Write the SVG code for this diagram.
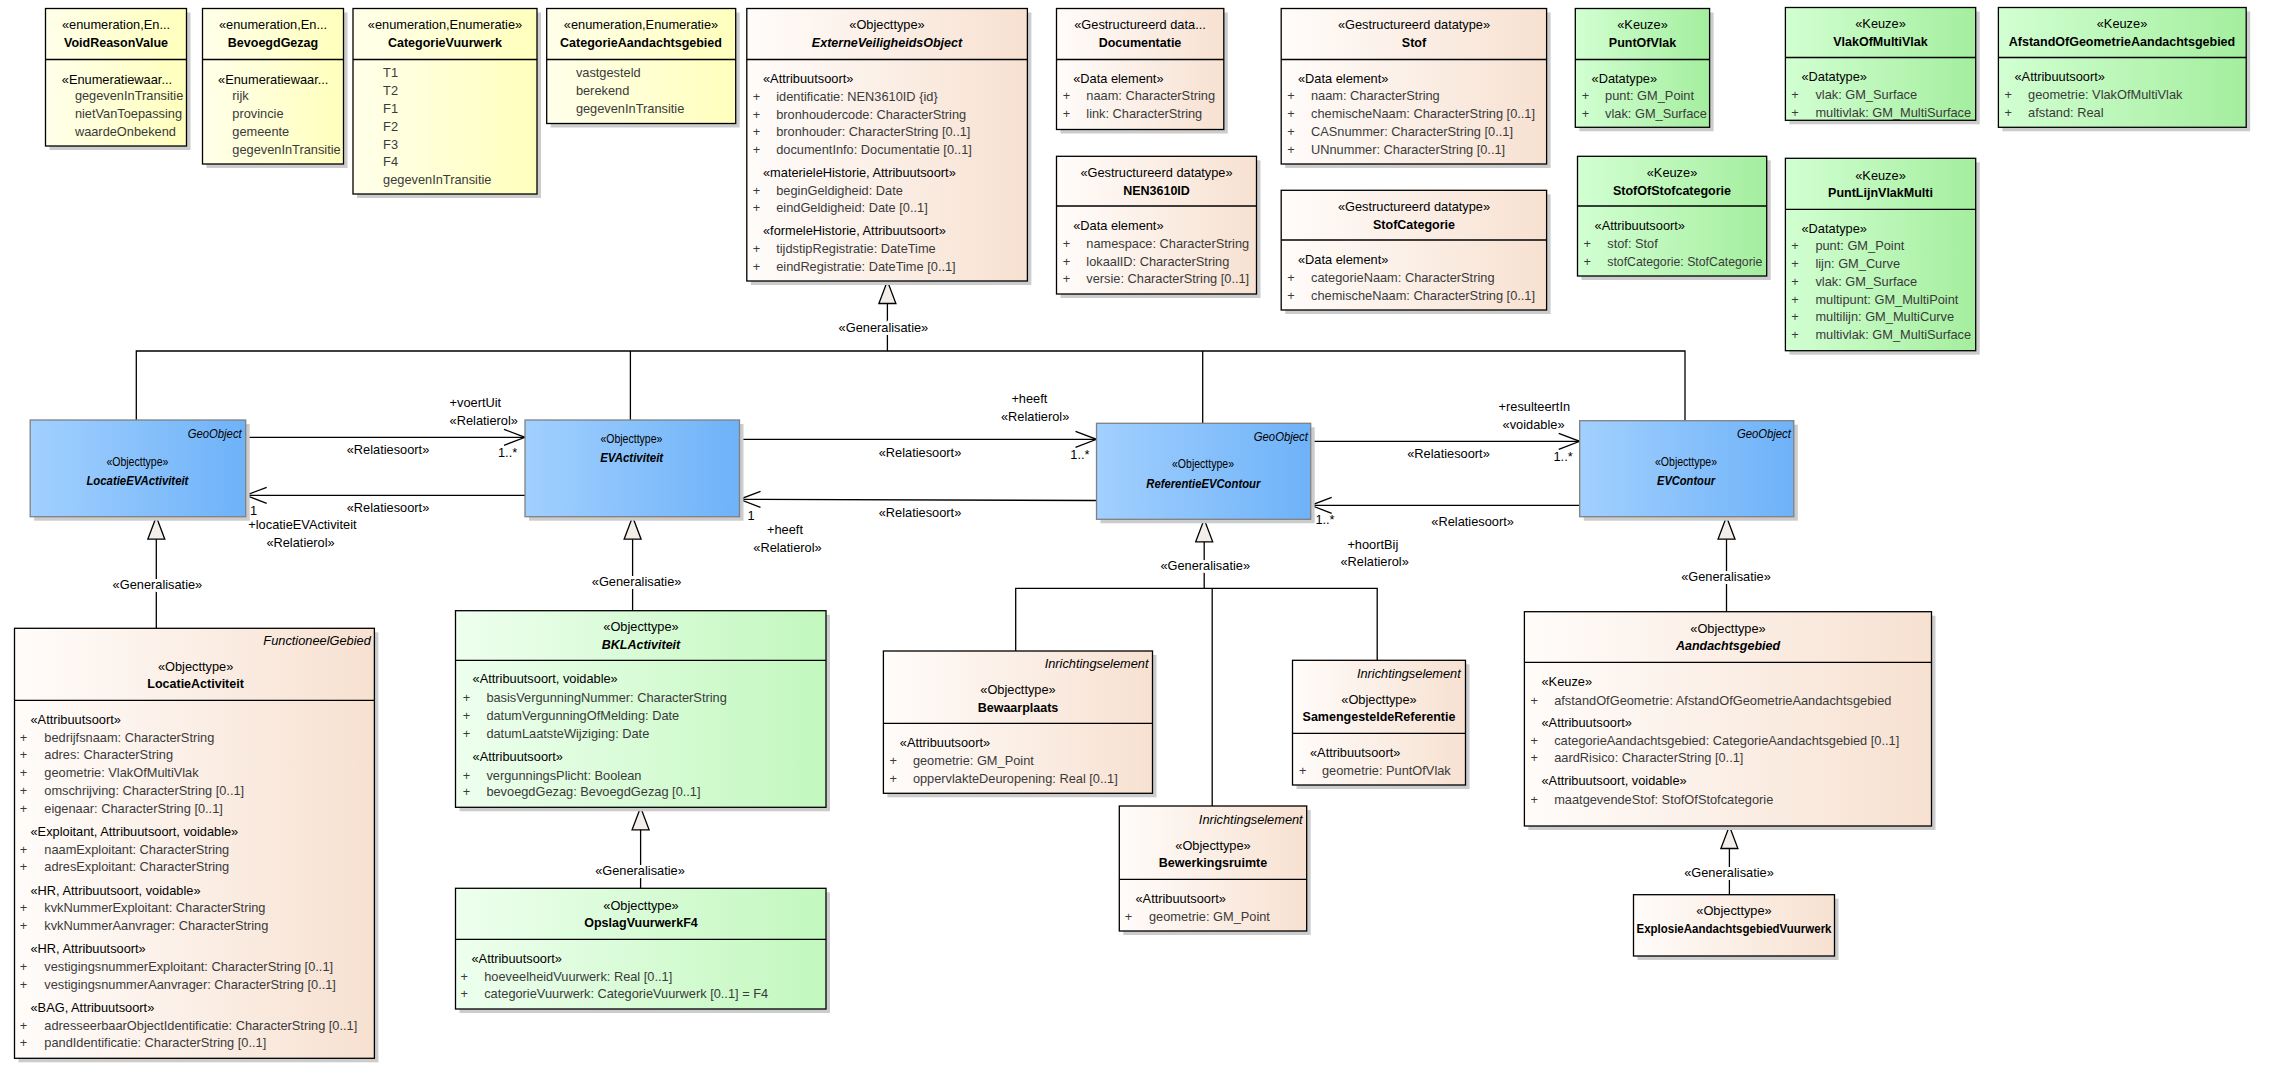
<svg xmlns="http://www.w3.org/2000/svg" width="2269" height="1077" viewBox="0 0 2269 1077">
<defs>
<linearGradient id="gY" x1="0" y1="0" x2="1" y2="0"><stop offset="0" stop-color="#FFFFEA"/><stop offset="1" stop-color="#FFFFBC"/></linearGradient>
<linearGradient id="gB" x1="0" y1="0" x2="1" y2="0"><stop offset="0" stop-color="#FFFCFA"/><stop offset="1" stop-color="#F7E1D1"/></linearGradient>
<linearGradient id="gG" x1="0" y1="0" x2="1" y2="0"><stop offset="0" stop-color="#D2FFD2"/><stop offset="1" stop-color="#A4EE9E"/></linearGradient>
<linearGradient id="gL" x1="0" y1="0" x2="1" y2="0"><stop offset="0" stop-color="#EEFFEE"/><stop offset="1" stop-color="#C2F8BE"/></linearGradient>
<linearGradient id="gBl" x1="0" y1="0" x2="1" y2="0"><stop offset="0" stop-color="#A2D0FF"/><stop offset="1" stop-color="#6EB2F8"/></linearGradient>
<marker id="arr" markerWidth="24" markerHeight="20" refX="22" refY="9" orient="auto" markerUnits="userSpaceOnUse"><path d="M1,1 L22,9 L1,17" fill="none" stroke="#000" stroke-width="1.3"/></marker>
<marker id="gen" markerWidth="26" markerHeight="20" refX="24" refY="9.5" orient="auto" markerUnits="userSpaceOnUse"><path d="M1.5,1 L24,9.5 L1.5,18 Z" fill="#F4EEEA" stroke="#000" stroke-width="1.3"/></marker>
</defs>
<style>
text{font-family:"Liberation Sans",Arial,sans-serif;font-size:12.8px;fill:#000}
.sh{fill:#CCCCCC}
.bx{stroke:#000;stroke-width:1.3}
.y{fill:url(#gY)}
.br{fill:url(#gB)}
.g{fill:url(#gG)}
.lg{fill:url(#gL)}
.bl{fill:url(#gBl);stroke:#808080;stroke-width:1.3}
.dv{stroke:#000;stroke-width:1.3}
.c{text-anchor:middle}
.r{text-anchor:end}
.b{font-weight:bold;font-size:12.5px}
.i{font-style:italic}
.a{fill:#3A3A3A}
.p{fill:#3A3A3A;text-anchor:middle}
.ln{stroke:#000;stroke-width:1.3;fill:none}
.lbl{paint-order:stroke;stroke:#fff;stroke-width:6px;stroke-linejoin:round}
</style>
<rect width="2269" height="1077" fill="#fff"/>

<g id="connectors">
<path class="ln" d="M136.3,420 V351 H1685 V420.7"/>
<path class="ln" d="M630.4,351 V420"/>
<path class="ln" d="M1202.7,351 V423.3"/>
<path class="ln" d="M887.4,351 V281" marker-end="url(#gen)"/>
<text class="c lbl" x="883.4" y="332.2">«Generalisatie»</text>

<path class="ln" d="M245.7,437.3 H525" marker-end="url(#arr)"/>
<path class="ln" d="M525,495.3 H245.7" marker-end="url(#arr)"/>
<text x="449.6" y="407.2">+voertUit</text>
<text x="449.6" y="425.2">«Relatierol»</text>
<text class="c" x="388" y="454.2">«Relatiesoort»</text>
<text x="498" y="456.8">1..*</text>
<text class="c" x="388" y="511.8">«Relatiesoort»</text>
<text x="250" y="514.8">1</text>
<text x="248.3" y="529.2">+locatieEVActiviteit</text>
<text x="266.4" y="547.2">«Relatierol»</text>

<path class="ln" d="M739.5,439.3 H1096.5" marker-end="url(#arr)"/>
<path class="ln" d="M1096.5,500.5 L739.5,499.3" marker-end="url(#arr)"/>
<text x="1011.4" y="402.8">+heeft</text>
<text x="1001" y="420.8">«Relatierol»</text>
<text class="c" x="920" y="457.2">«Relatiesoort»</text>
<text x="1070.3" y="458.8">1..*</text>
<text class="c" x="920" y="517.2">«Relatiesoort»</text>
<text x="747.5" y="519.5">1</text>
<text x="767" y="533.8">+heeft</text>
<text x="753.3" y="551.8">«Relatierol»</text>

<path class="ln" d="M1310.7,441.3 H1579.7" marker-end="url(#arr)"/>
<path class="ln" d="M1579.7,505.3 H1310.7" marker-end="url(#arr)"/>
<text x="1498.6" y="411.2">+resulteertIn</text>
<text x="1502.6" y="429.2">«voidable»</text>
<text class="c" x="1448.5" y="458.2">«Relatiesoort»</text>
<text x="1553.5" y="460.5">1..*</text>
<text class="c" x="1472.6" y="525.8">«Relatiesoort»</text>
<text x="1315.4" y="524.2">1..*</text>
<text x="1347.4" y="548.5">+hoortBij</text>
<text x="1340.5" y="566.2">«Relatierol»</text>

<path class="ln" d="M156.3,628.3 V516.7" marker-end="url(#gen)"/>
<text class="c lbl" x="157.4" y="589.2">«Generalisatie»</text>
<path class="ln" d="M632.6,610.7 V516.7" marker-end="url(#gen)"/>
<text class="c lbl" x="636.6" y="586.2">«Generalisatie»</text>
<path class="ln" d="M640.6,888.3 V807.3" marker-end="url(#gen)"/>
<text class="c lbl" x="640" y="874.8">«Generalisatie»</text>
<path class="ln" d="M1015.7,651 V588.3 H1377.2 V660.3 M1212.2,588.3 V806"/>
<path class="ln" d="M1204.2,588.3 V519.3" marker-end="url(#gen)"/>
<text class="c lbl" x="1205.2" y="569.8">«Generalisatie»</text>
<path class="ln" d="M1726.5,611.7 V516.7" marker-end="url(#gen)"/>
<text class="c lbl" x="1726" y="580.8">«Generalisatie»</text>
<path class="ln" d="M1729.4,894.7 V826" marker-end="url(#gen)"/>
<text class="c lbl" x="1729" y="876.8">«Generalisatie»</text>
</g>

<g id="VoidReasonValue">
<rect class="sh" x="49.5" y="12.5" width="141" height="137.5"/>
<rect class="bx y" x="45.5" y="8.5" width="141" height="137.5"/>
<line class="dv" x1="45.5" y1="59.5" x2="186.5" y2="59.5"/>
<text class="c" x="116" y="28.8">«enumeration,En...</text>
<text class="c b" x="116" y="46.8">VoidReasonValue</text>
<text x="61.8" y="83.5">«Enumeratiewaar...</text>
<text class="a" x="74.9" y="100.2">gegevenInTransitie</text>
<text class="a" x="74.9" y="118.2">nietVanToepassing</text>
<text class="a" x="74.9" y="135.8">waardeOnbekend</text>
</g>

<g id="BevoegdGezag">
<rect class="sh" x="206.5" y="12.5" width="141" height="155.5"/>
<rect class="bx y" x="202.5" y="8.5" width="141" height="155.5"/>
<line class="dv" x1="202.5" y1="59.5" x2="343.5" y2="59.5"/>
<text class="c" x="273" y="28.8">«enumeration,En...</text>
<text class="c b" x="273" y="46.8">BevoegdGezag</text>
<text x="218.1" y="83.5">«Enumeratiewaar...</text>
<text class="a" x="232.3" y="100.2">rijk</text>
<text class="a" x="232.3" y="118.2">provincie</text>
<text class="a" x="232.3" y="135.8">gemeente</text>
<text class="a" x="232.3" y="153.8">gegevenInTransitie</text>
</g>

<g id="CategorieVuurwerk">
<rect class="sh" x="357" y="12.5" width="184" height="185.5"/>
<rect class="bx y" x="353" y="8.5" width="184" height="185.5"/>
<line class="dv" x1="353" y1="59.5" x2="537" y2="59.5"/>
<text class="c" x="445" y="28.8">«enumeration,Enumeratie»</text>
<text class="c b" x="445" y="46.8">CategorieVuurwerk</text>
<text class="a" x="383.1" y="77.2">T1</text>
<text class="a" x="383.1" y="95.2">T2</text>
<text class="a" x="383.1" y="113.2">F1</text>
<text class="a" x="383.1" y="130.8">F2</text>
<text class="a" x="383.1" y="148.5">F3</text>
<text class="a" x="383.1" y="166.2">F4</text>
<text class="a" x="383.1" y="184.2">gegevenInTransitie</text>
</g>

<g id="CategorieAandachtsgebied">
<rect class="sh" x="550.7" y="12.5" width="189" height="115"/>
<rect class="bx y" x="546.7" y="8.5" width="189" height="115"/>
<line class="dv" x1="546.7" y1="59.5" x2="735.7" y2="59.5"/>
<text class="c" x="641" y="28.8">«enumeration,Enumeratie»</text>
<text class="c b" x="641" y="46.8">CategorieAandachtsgebied</text>
<text class="a" x="575.9" y="76.8">vastgesteld</text>
<text class="a" x="575.9" y="94.8">berekend</text>
<text class="a" x="575.9" y="112.8">gegevenInTransitie</text>
</g>

<g id="ExterneVeiligheidsObject">
<rect class="sh" x="750.8" y="12.5" width="280.6" height="272.5"/>
<rect class="bx br" x="746.8" y="8.5" width="280.6" height="272.5"/>
<line class="dv" x1="746.8" y1="59.5" x2="1027.4" y2="59.5"/>
<text class="c" x="887" y="28.8">«Objecttype»</text>
<text class="c b i" x="887" y="46.8">ExterneVeiligheidsObject</text>
<text x="763" y="83.2">«Attribuutsoort»</text>
<text class="p" x="756.6" y="100.5">+</text><text class="a" x="776.2" y="100.5">identificatie: NEN3610ID {id}</text>
<text class="p" x="756.6" y="118.5">+</text><text class="a" x="776.2" y="118.5">bronhoudercode: CharacterString</text>
<text class="p" x="756.6" y="136.2">+</text><text class="a" x="776.2" y="136.2">bronhouder: CharacterString [0..1]</text>
<text class="p" x="756.6" y="153.8">+</text><text class="a" x="776.2" y="153.8">documentInfo: Documentatie [0..1]</text>
<text x="763" y="177.2">«materieleHistorie, Attribuutsoort»</text>
<text class="p" x="756.6" y="195.2">+</text><text class="a" x="776.2" y="195.2">beginGeldigheid: Date</text>
<text class="p" x="756.6" y="212.2">+</text><text class="a" x="776.2" y="212.2">eindGeldigheid: Date [0..1]</text>
<text x="763" y="234.8">«formeleHistorie, Attribuutsoort»</text>
<text class="p" x="756.6" y="252.8">+</text><text class="a" x="776.2" y="252.8">tijdstipRegistratie: DateTime</text>
<text class="p" x="756.6" y="271.2">+</text><text class="a" x="776.2" y="271.2">eindRegistratie: DateTime [0..1]</text>
</g>

<g id="Documentatie">
<rect class="sh" x="1060.5" y="12.5" width="167.3" height="121"/>
<rect class="bx br" x="1056.5" y="8.5" width="167.3" height="121"/>
<line class="dv" x1="1056.5" y1="59.5" x2="1223.8" y2="59.5"/>
<text class="c" x="1140" y="28.8">«Gestructureerd data...</text>
<text class="c b" x="1140" y="46.8">Documentatie</text>
<text x="1073.2" y="83.2">«Data element»</text>
<text class="p" x="1066.6" y="100.2">+</text><text class="a" x="1086.3" y="100.2">naam: CharacterString</text>
<text class="p" x="1066.6" y="118.2">+</text><text class="a" x="1086.3" y="118.2">link: CharacterString</text>
</g>

<g id="NEN3610ID">
<rect class="sh" x="1060.5" y="160.3" width="200" height="137.7"/>
<rect class="bx br" x="1056.5" y="156.3" width="200" height="137.7"/>
<line class="dv" x1="1056.5" y1="206" x2="1256.5" y2="206"/>
<text class="c" x="1156.5" y="177.2">«Gestructureerd datatype»</text>
<text class="c b" x="1156.5" y="195.2">NEN3610ID</text>
<text x="1073.2" y="230.2">«Data element»</text>
<text class="p" x="1066.6" y="248.2">+</text><text class="a" x="1086.3" y="248.2">namespace: CharacterString</text>
<text class="p" x="1066.6" y="265.5">+</text><text class="a" x="1086.3" y="265.5">lokaalID: CharacterString</text>
<text class="p" x="1066.6" y="282.8">+</text><text class="a" x="1086.3" y="282.8">versie: CharacterString [0..1]</text>
</g>

<g id="Stof">
<rect class="sh" x="1285.2" y="12.5" width="265.4" height="155.5"/>
<rect class="bx br" x="1281.2" y="8.5" width="265.4" height="155.5"/>
<line class="dv" x1="1281.2" y1="59.5" x2="1546.6" y2="59.5"/>
<text class="c" x="1414" y="28.8">«Gestructureerd datatype»</text>
<text class="c b" x="1414" y="46.8">Stof</text>
<text x="1298" y="83.2">«Data element»</text>
<text class="p" x="1291" y="100.2">+</text><text class="a" x="1311" y="100.2">naam: CharacterString</text>
<text class="p" x="1291" y="118.2">+</text><text class="a" x="1311" y="118.2">chemischeNaam: CharacterString [0..1]</text>
<text class="p" x="1291" y="136.2">+</text><text class="a" x="1311" y="136.2">CASnummer: CharacterString [0..1]</text>
<text class="p" x="1291" y="154.2">+</text><text class="a" x="1311" y="154.2">UNnummer: CharacterString [0..1]</text>
</g>

<g id="StofCategorie">
<rect class="sh" x="1285.2" y="194.3" width="265.4" height="119.7"/>
<rect class="bx br" x="1281.2" y="190.3" width="265.4" height="119.7"/>
<line class="dv" x1="1281.2" y1="240" x2="1546.6" y2="240"/>
<text class="c" x="1414" y="211.2">«Gestructureerd datatype»</text>
<text class="c b" x="1414" y="228.5">StofCategorie</text>
<text x="1298" y="263.8">«Data element»</text>
<text class="p" x="1291" y="282.2">+</text><text class="a" x="1311" y="282.2">categorieNaam: CharacterString</text>
<text class="p" x="1291" y="299.8">+</text><text class="a" x="1311" y="299.8">chemischeNaam: CharacterString [0..1]</text>
</g>

<g id="PuntOfVlak">
<rect class="sh" x="1579.3" y="12.5" width="134.3" height="118.8"/>
<rect class="bx g" x="1575.3" y="8.5" width="134.3" height="118.8"/>
<line class="dv" x1="1575.3" y1="59.5" x2="1709.6" y2="59.5"/>
<text class="c" x="1642.5" y="28.8">«Keuze»</text>
<text class="c b" x="1642.5" y="46.8">PuntOfVlak</text>
<text x="1591.6" y="83.2">«Datatype»</text>
<text class="p" x="1585.5" y="100.2">+</text><text class="a" x="1605.1" y="100.2">punt: GM_Point</text>
<text class="p" x="1585.5" y="118.2">+</text><text class="a" x="1605.1" y="118.2">vlak: GM_Surface</text>
</g>

<g id="StofOfStofcategorie">
<rect class="sh" x="1581.5" y="160.3" width="189.2" height="119.7"/>
<rect class="bx g" x="1577.5" y="156.3" width="189.2" height="119.7"/>
<line class="dv" x1="1577.5" y1="206" x2="1766.7" y2="206"/>
<text class="c" x="1672" y="176.8">«Keuze»</text>
<text class="c b" x="1672" y="194.8">StofOfStofcategorie</text>
<text x="1594.6" y="230.2">«Attribuutsoort»</text>
<text class="p" x="1587.3" y="248.2">+</text><text class="a" x="1607.3" y="248.2">stof: Stof</text>
<text class="p" x="1587.3" y="265.5">+</text><text class="a" x="1607.3" y="265.5" textLength="155" lengthAdjust="spacingAndGlyphs">stofCategorie: StofCategorie</text>
</g>

<g id="VlakOfMultiVlak">
<rect class="sh" x="1789.4" y="11.5" width="190.3" height="112.8"/>
<rect class="bx g" x="1785.4" y="7.5" width="190.3" height="112.8"/>
<line class="dv" x1="1785.4" y1="57.5" x2="1975.7" y2="57.5"/>
<text class="c" x="1880.5" y="27.8">«Keuze»</text>
<text class="c b" x="1880.5" y="45.8">VlakOfMultiVlak</text>
<text x="1801.5" y="81.2">«Datatype»</text>
<text class="p" x="1794.9" y="99.2">+</text><text class="a" x="1815.4" y="99.2">vlak: GM_Surface</text>
<text class="p" x="1794.9" y="117.2">+</text><text class="a" x="1815.4" y="117.2">multivlak: GM_MultiSurface</text>
</g>

<g id="AfstandOfGeometrieAandachtsgebied">
<rect class="sh" x="2002.4" y="11.5" width="247.8" height="119.8"/>
<rect class="bx g" x="1998.4" y="7.5" width="247.8" height="119.8"/>
<line class="dv" x1="1998.4" y1="57.5" x2="2246.2" y2="57.5"/>
<text class="c" x="2122" y="27.8">«Keuze»</text>
<text class="c b" x="2122" y="45.8">AfstandOfGeometrieAandachtsgebied</text>
<text x="2014.5" y="81.2">«Attribuutsoort»</text>
<text class="p" x="2008.3" y="99.2">+</text><text class="a" x="2028.1" y="99.2">geometrie: VlakOfMultiVlak</text>
<text class="p" x="2008.3" y="117.2">+</text><text class="a" x="2028.1" y="117.2">afstand: Real</text>
</g>

<g id="PuntLijnVlakMulti">
<rect class="sh" x="1789.4" y="162.3" width="190.3" height="192.4"/>
<rect class="bx g" x="1785.4" y="158.3" width="190.3" height="192.4"/>
<line class="dv" x1="1785.4" y1="209.3" x2="1975.7" y2="209.3"/>
<text class="c" x="1880.5" y="179.5">«Keuze»</text>
<text class="c b" x="1880.5" y="196.8">PuntLijnVlakMulti</text>
<text x="1801.5" y="233.2">«Datatype»</text>
<text class="p" x="1794.9" y="249.8">+</text><text class="a" x="1815.4" y="249.8">punt: GM_Point</text>
<text class="p" x="1794.9" y="268.2">+</text><text class="a" x="1815.4" y="268.2">lijn: GM_Curve</text>
<text class="p" x="1794.9" y="286.2">+</text><text class="a" x="1815.4" y="286.2">vlak: GM_Surface</text>
<text class="p" x="1794.9" y="304.2">+</text><text class="a" x="1815.4" y="304.2">multipunt: GM_MultiPoint</text>
<text class="p" x="1794.9" y="321.2">+</text><text class="a" x="1815.4" y="321.2">multilijn: GM_MultiCurve</text>
<text class="p" x="1794.9" y="338.8">+</text><text class="a" x="1815.4" y="338.8">multivlak: GM_MultiSurface</text>
</g>

<g id="LocatieEVActiviteit">
<rect class="sh" x="34.2" y="424" width="215.5" height="96.7"/>
<rect class="bl" x="30.2" y="420" width="215.5" height="96.7"/>
<text class="r i" x="241.7" y="438.2" textLength="54" lengthAdjust="spacingAndGlyphs">GeoObject</text>
<text class="c" x="137.4" y="466.2" textLength="62" lengthAdjust="spacingAndGlyphs">«Objecttype»</text>
<text class="c b i" x="137.4" y="484.8" textLength="102" lengthAdjust="spacingAndGlyphs">LocatieEVActiviteit</text>
</g>

<g id="EVActiviteit">
<rect class="sh" x="529" y="424" width="214.5" height="96.7"/>
<rect class="bl" x="525" y="420" width="214.5" height="96.7"/>
<text class="c" x="631.4" y="442.8" textLength="62" lengthAdjust="spacingAndGlyphs">«Objecttype»</text>
<text class="c b i" x="631.7" y="461.8" textLength="63" lengthAdjust="spacingAndGlyphs">EVActiviteit</text>
</g>

<g id="ReferentieEVContour">
<rect class="sh" x="1100.5" y="427.3" width="214.2" height="96"/>
<rect class="bl" x="1096.5" y="423.3" width="214.2" height="96"/>
<text class="r i" x="1307.8" y="440.8" textLength="54" lengthAdjust="spacingAndGlyphs">GeoObject</text>
<text class="c" x="1203" y="467.8" textLength="62" lengthAdjust="spacingAndGlyphs">«Objecttype»</text>
<text class="c b i" x="1203.3" y="487.5" textLength="114" lengthAdjust="spacingAndGlyphs">ReferentieEVContour</text>
</g>

<g id="EVContour">
<rect class="sh" x="1583.7" y="424.7" width="214.1" height="96"/>
<rect class="bl" x="1579.7" y="420.7" width="214.1" height="96"/>
<text class="r i" x="1790.9" y="438.2" textLength="54" lengthAdjust="spacingAndGlyphs">GeoObject</text>
<text class="c" x="1686" y="466.2" textLength="62" lengthAdjust="spacingAndGlyphs">«Objecttype»</text>
<text class="c b i" x="1686" y="485.2" textLength="58" lengthAdjust="spacingAndGlyphs">EVContour</text>
</g>

<g id="LocatieActiviteit">
<rect class="sh" x="18.5" y="632.3" width="359.9" height="430"/>
<rect class="bx br" x="14.5" y="628.3" width="359.9" height="430"/>
<line class="dv" x1="14.5" y1="700.3" x2="374.4" y2="700.3"/>
<text class="r i" x="370.8" y="645.2">FunctioneelGebied</text>
<text class="c" x="195.6" y="671.2">«Objecttype»</text>
<text class="c b" x="195.6" y="687.8">LocatieActiviteit</text>
<text x="30.5" y="723.8">«Attribuutsoort»</text>
<text class="p" x="23.6" y="742.2">+</text><text class="a" x="44.3" y="742.2">bedrijfsnaam: CharacterString</text>
<text class="p" x="23.6" y="759.2">+</text><text class="a" x="44.3" y="759.2">adres: CharacterString</text>
<text class="p" x="23.6" y="777.2">+</text><text class="a" x="44.3" y="777.2">geometrie: VlakOfMultiVlak</text>
<text class="p" x="23.6" y="795.2">+</text><text class="a" x="44.3" y="795.2">omschrijving: CharacterString [0..1]</text>
<text class="p" x="23.6" y="812.8">+</text><text class="a" x="44.3" y="812.8">eigenaar: CharacterString [0..1]</text>
<text x="30.5" y="836.2">«Exploitant, Attribuutsoort, voidable»</text>
<text class="p" x="23.6" y="854.2">+</text><text class="a" x="44.3" y="854.2">naamExploitant: CharacterString</text>
<text class="p" x="23.6" y="871.2">+</text><text class="a" x="44.3" y="871.2">adresExploitant: CharacterString</text>
<text x="30.5" y="894.5">«HR, Attribuutsoort, voidable»</text>
<text class="p" x="23.6" y="912.2">+</text><text class="a" x="44.3" y="912.2">kvkNummerExploitant: CharacterString</text>
<text class="p" x="23.6" y="930.2">+</text><text class="a" x="44.3" y="930.2">kvkNummerAanvrager: CharacterString</text>
<text x="30.5" y="953.2">«HR, Attribuutsoort»</text>
<text class="p" x="23.6" y="971.2">+</text><text class="a" x="44.3" y="971.2">vestigingsnummerExploitant: CharacterString [0..1]</text>
<text class="p" x="23.6" y="988.8">+</text><text class="a" x="44.3" y="988.8">vestigingsnummerAanvrager: CharacterString [0..1]</text>
<text x="30.5" y="1011.8">«BAG, Attribuutsoort»</text>
<text class="p" x="23.6" y="1030.2">+</text><text class="a" x="44.3" y="1030.2">adresseerbaarObjectIdentificatie: CharacterString [0..1]</text>
<text class="p" x="23.6" y="1047.2">+</text><text class="a" x="44.3" y="1047.2">pandIdentificatie: CharacterString [0..1]</text>
</g>

<g id="BKLActiviteit">
<rect class="sh" x="459.5" y="614.7" width="370.5" height="196.6"/>
<rect class="bx lg" x="455.5" y="610.7" width="370.5" height="196.6"/>
<line class="dv" x1="455.5" y1="660.3" x2="826" y2="660.3"/>
<text class="c" x="641" y="631.2">«Objecttype»</text>
<text class="c b i" x="641" y="648.8">BKLActiviteit</text>
<text x="472.6" y="683.2">«Attribuutsoort, voidable»</text>
<text class="p" x="466.4" y="702">+</text><text class="a" x="486.4" y="702">basisVergunningNummer: CharacterString</text>
<text class="p" x="466.4" y="719.5">+</text><text class="a" x="486.4" y="719.5">datumVergunningOfMelding: Date</text>
<text class="p" x="466.4" y="737.8">+</text><text class="a" x="486.4" y="737.8">datumLaatsteWijziging: Date</text>
<text x="472.6" y="760.8">«Attribuutsoort»</text>
<text class="p" x="466.4" y="779.5">+</text><text class="a" x="486.4" y="779.5">vergunningsPlicht: Boolean</text>
<text class="p" x="466.4" y="796.2">+</text><text class="a" x="486.4" y="796.2">bevoegdGezag: BevoegdGezag [0..1]</text>
</g>

<g id="OpslagVuurwerkF4">
<rect class="sh" x="459.5" y="892.3" width="370.5" height="120.7"/>
<rect class="bx lg" x="455.5" y="888.3" width="370.5" height="120.7"/>
<line class="dv" x1="455.5" y1="939.3" x2="826" y2="939.3"/>
<text class="c" x="641" y="909.8">«Objecttype»</text>
<text class="c b" x="641" y="927.2">OpslagVuurwerkF4</text>
<text x="471.5" y="962.8">«Attribuutsoort»</text>
<text class="p" x="464.2" y="981.2">+</text><text class="a" x="484.2" y="981.2">hoeveelheidVuurwerk: Real [0..1]</text>
<text class="p" x="464.2" y="998.2">+</text><text class="a" x="484.2" y="998.2">categorieVuurwerk: CategorieVuurwerk [0..1] = F4</text>
</g>

<g id="Bewaarplaats">
<rect class="sh" x="887.4" y="655" width="269.1" height="142.3"/>
<rect class="bx br" x="883.4" y="651" width="269.1" height="142.3"/>
<line class="dv" x1="883.4" y1="723.3" x2="1152.5" y2="723.3"/>
<text class="r i" x="1148.5" y="668.2">Inrichtingselement</text>
<text class="c" x="1018" y="693.8">«Objecttype»</text>
<text class="c b" x="1018" y="711.8">Bewaarplaats</text>
<text x="899.8" y="746.8">«Attribuutsoort»</text>
<text class="p" x="893.2" y="765.2">+</text><text class="a" x="912.9" y="765.2">geometrie: GM_Point</text>
<text class="p" x="893.2" y="782.8">+</text><text class="a" x="912.9" y="782.8">oppervlakteDeuropening: Real [0..1]</text>
</g>

<g id="Bewerkingsruimte">
<rect class="sh" x="1123.3" y="810" width="187.4" height="125"/>
<rect class="bx br" x="1119.3" y="806" width="187.4" height="125"/>
<line class="dv" x1="1119.3" y1="879.3" x2="1306.7" y2="879.3"/>
<text class="r i" x="1302.7" y="823.8">Inrichtingselement</text>
<text class="c" x="1213" y="849.8">«Objecttype»</text>
<text class="c b" x="1213" y="866.8">Bewerkingsruimte</text>
<text x="1135.5" y="902.8">«Attribuutsoort»</text>
<text class="p" x="1128.4" y="920.8">+</text><text class="a" x="1149" y="920.8">geometrie: GM_Point</text>
</g>

<g id="SamengesteldeReferentie">
<rect class="sh" x="1296.5" y="664.3" width="173" height="124.7"/>
<rect class="bx br" x="1292.5" y="660.3" width="173" height="124.7"/>
<line class="dv" x1="1292.5" y1="733.3" x2="1465.5" y2="733.3"/>
<text class="r i" x="1460.8" y="677.8">Inrichtingselement</text>
<text class="c" x="1379" y="703.8">«Objecttype»</text>
<text class="c b" x="1379" y="721.2">SamengesteldeReferentie</text>
<text x="1310" y="757.2">«Attribuutsoort»</text>
<text class="p" x="1302.7" y="774.5">+</text><text class="a" x="1322" y="774.5">geometrie: PuntOfVlak</text>
</g>

<g id="Aandachtsgebied">
<rect class="sh" x="1528.4" y="615.7" width="407.1" height="214.3"/>
<rect class="bx br" x="1524.4" y="611.7" width="407.1" height="214.3"/>
<line class="dv" x1="1524.4" y1="662.3" x2="1931.5" y2="662.3"/>
<text class="c" x="1728" y="632.8">«Objecttype»</text>
<text class="c b i" x="1728" y="650.2">Aandachtsgebied</text>
<text x="1541.5" y="686.2">«Keuze»</text>
<text class="p" x="1534.2" y="704.5">+</text><text class="a" x="1554.2" y="704.5">afstandOfGeometrie: AfstandOfGeometrieAandachtsgebied</text>
<text x="1541.5" y="726.8">«Attribuutsoort»</text>
<text class="p" x="1534.2" y="744.5">+</text><text class="a" x="1554.2" y="744.5">categorieAandachtsgebied: CategorieAandachtsgebied [0..1]</text>
<text class="p" x="1534.2" y="762.2">+</text><text class="a" x="1554.2" y="762.2">aardRisico: CharacterString [0..1]</text>
<text x="1541.5" y="785.2">«Attribuutsoort, voidable»</text>
<text class="p" x="1534.2" y="803.5">+</text><text class="a" x="1554.2" y="803.5">maatgevendeStof: StofOfStofcategorie</text>
</g>

<g id="ExplosieAandachtsgebiedVuurwerk">
<rect class="sh" x="1637.5" y="898.7" width="201" height="61.3"/>
<rect class="bx br" x="1633.5" y="894.7" width="201" height="61.3"/>
<text class="c" x="1734" y="915.2">«Objecttype»</text>
<text class="c b" x="1734" y="933.2" textLength="195" lengthAdjust="spacingAndGlyphs">ExplosieAandachtsgebiedVuurwerk</text>
</g>
</svg>
